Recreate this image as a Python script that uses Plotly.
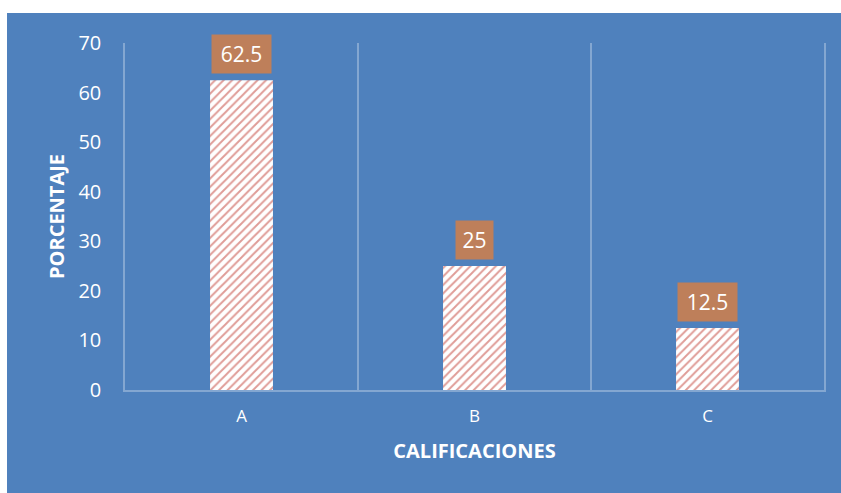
import plotly.graph_objects as go

categories = ["A", "B", "C"]
values = [62.5, 25, 12.5]
labels = ["62.5", "25", "12.5"]
y_ticks = [0, 10, 20, 30, 40, 50, 60, 70]

BLUE = "#4F81BD"
WHITE = "#FFFFFF"
LINE = "rgba(255,255,255,0.3)"
FONT = "Open Sans"

fig = go.Figure()
fig.add_trace(go.Bar(
    x=categories, y=values, width=0.27,
    marker=dict(color=WHITE, line=dict(width=0),
                pattern=dict(shape="/", fgcolor="#C0392F", bgcolor=WHITE,
                             size=6, solidity=0.32)),
    hoverinfo="skip",
))

for c, v, t in zip(categories, values, labels):
    fig.add_annotation(x=c, y=v, text=t, showarrow=False, yanchor="bottom",
                       yshift=6, bgcolor="#BE7F5A", borderpad=5,
                       width=len(t) * 11 + 5,
                       font=dict(family=FONT, size=21, color=WHITE))

# chart area background (blue panel)
fig.add_shape(type="rect", xref="paper", yref="paper",
              x0=-0.1688, x1=1.03, y0=-0.31, y1=1.0865,
              fillcolor=BLUE, line=dict(width=0), layer="below")

fig.update_layout(
    width=841, height=493,
    margin=dict(l=125, r=17, t=43, b=103),
    paper_bgcolor=WHITE, plot_bgcolor="rgba(0,0,0,0)",
    showlegend=False,
    font=dict(family=FONT, color=WHITE),
    xaxis=dict(type="category", tickson="boundaries", showgrid=True,
               gridcolor=LINE, gridwidth=1.5,
               showline=True, linecolor=LINE, linewidth=1.5,
               ticks="", ticklabelstandoff=10,
               tickfont=dict(size=17, color=WHITE, family=FONT),
               range=[-0.5, 2.5],
               title=dict(text="<b>CALIFICACIONES</b>", standoff=18,
                          font=dict(size=20, color=WHITE, family=FONT)),
               ),
    yaxis=dict(range=[0, 70], tickvals=y_ticks, showgrid=False, zeroline=False,
               showline=True, mirror=True, linecolor=LINE, linewidth=1.5,
               ticks="", ticklabelstandoff=18,
               tickfont=dict(size=20, color=WHITE, family=FONT),
               title=dict(text="<b>PORCENTAJE</b>", standoff=8,
                          font=dict(size=20, color=WHITE, family=FONT)),
               ),
)

fig.write_html("out.html", config={"displayModeBar": False},
               post_script="document.body.style.margin='0';document.body.style.padding='0';")
